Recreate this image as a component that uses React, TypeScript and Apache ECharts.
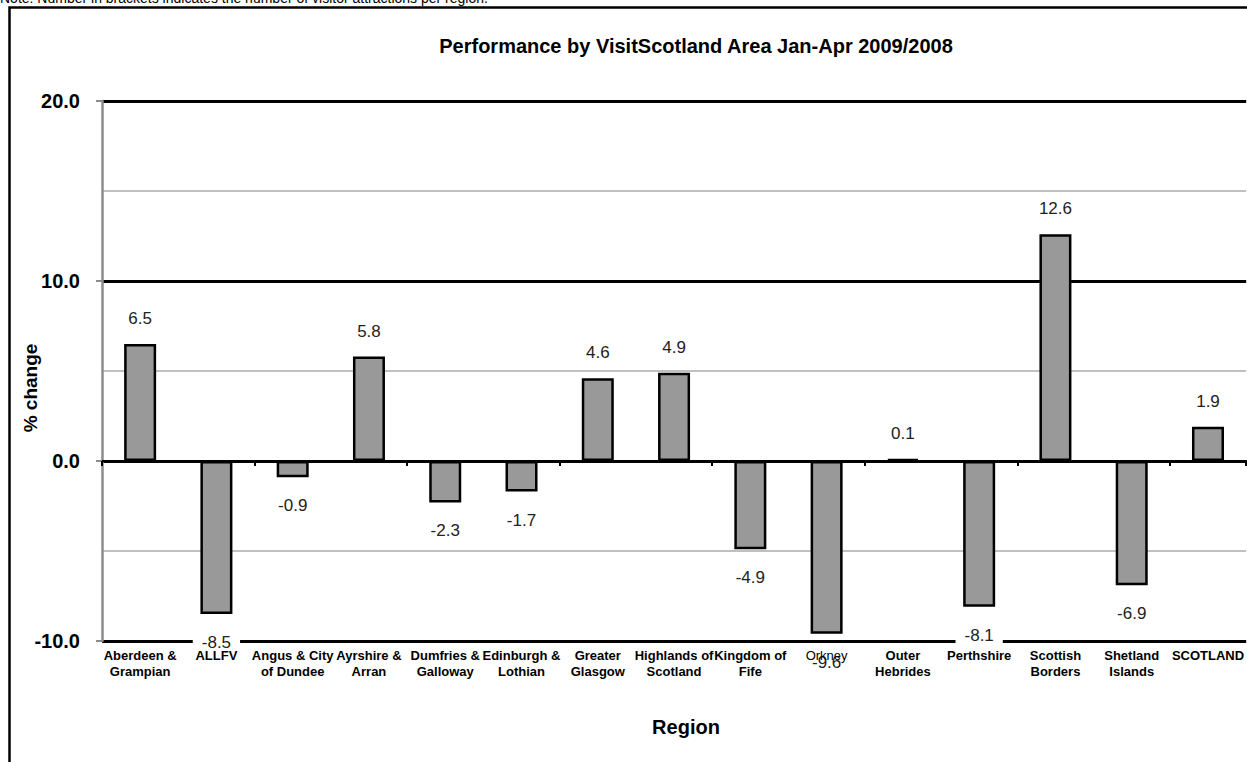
import React, { useEffect, useRef } from "react";
import * as echarts from "echarts";

const categories = [
  "Aberdeen &\nGrampian",
  "ALLFV",
  "Angus & City\nof Dundee",
  "Ayrshire &\nArran",
  "Dumfries &\nGalloway",
  "Edinburgh &\nLothian",
  "Greater\nGlasgow",
  "Highlands of\nScotland",
  "Kingdom of\nFife",
  "Orkney",
  "Outer\nHebrides",
  "Perthshire",
  "Scottish\nBorders",
  "Shetland\nIslands",
  "SCOTLAND",
];
const values = [6.5, -8.5, -0.9, 5.8, -2.3, -1.7, 4.6, 4.9, -4.9, -9.6, 0.1, -8.1, 12.6, -6.9, 1.9];
const yMin = -10;
const yMax = 20;
const yMajor = 10;
const yMinor = 5;

const titleText = "Performance by VisitScotland Area Jan-Apr 2009/2008";
const noteText = "Note: Number in brackets indicates the number of visitor attractions per region.";
const yName = "% change";
const xName = "Region";

const FONT = "'Liberation Sans', Arial, sans-serif";

export default function App() {
  const ref = useRef<HTMLDivElement>(null);
  useEffect(() => {
    if (!ref.current) return;
    const chart = echarts.init(ref.current, null, { renderer: "svg" });
    const data = values.map((v) => ({
      value: v,
      label: { position: v >= 0 ? "top" : "bottom", distance: v >= 0 ? 14 : 17 },
    }));
    chart.setOption({
      animation: false,
      backgroundColor: "#fff",
      textStyle: { fontFamily: FONT },
      grid: { left: 102, top: 101, width: 1147, height: 540, containLabel: false },
      xAxis: [
        {
          type: "category",
          data: categories,
          position: "bottom",
          z: 10,
          axisLine: { show: false, onZero: false },
          axisTick: { show: false },
          splitLine: { show: false },
          axisLabel: {
            interval: 0,
            fontSize: 13,
            fontWeight: "bold",
            lineHeight: 16,
            margin: 6,
            color: "#000",
            fontFamily: FONT,
            formatter: (v: string) => (v === "Orkney" ? "{o|" + v + "}" : v),
            rich: {
              o: { fontSize: 13, fontWeight: "normal", color: "#000", fontFamily: FONT },
            },
          },
        },
        {
          type: "category",
          data: categories,
          position: "bottom",
          axisLine: { show: true, onZero: true, lineStyle: { color: "#000", width: 2 } },
          axisTick: { show: true, length: 5, lineStyle: { color: "#000", width: 2 } },
          axisLabel: { show: false },
          splitLine: { show: false },
        },
      ],
      yAxis: [
        {
          type: "value",
          min: yMin,
          max: yMax,
          interval: yMinor,
          axisLine: { show: false },
          axisTick: { show: false },
          axisLabel: { show: false },
          splitLine: { show: true, lineStyle: { color: ["#000", "#c0c0c0"], width: 2 } },
        },
        {
          type: "value",
          min: yMin,
          max: yMax,
          interval: yMajor,
          position: "left",
          axisLine: { show: true, onZero: false, lineStyle: { color: "#8c8c8c", width: 2.5 } },
          axisTick: { show: true, length: 6, lineStyle: { color: "#8c8c8c", width: 2 } },
          axisLabel: {
            margin: 22,
            fontSize: 20,
            fontWeight: "bold",
            color: "#000",
            fontFamily: FONT,
            formatter: (v: number) => v.toFixed(1),
          },
          splitLine: { show: true, lineStyle: { color: "#000", width: 3 } },
        },
      ],
      series: [
        {
          type: "bar",
          xAxisIndex: 0,
          yAxisIndex: 0,
          data,
          barWidth: 32,
          itemStyle: { color: "#999999", borderColor: "#000", borderWidth: 2.5 },
          label: {
            show: true,
            fontSize: 17,
            color: "#222",
            fontFamily: FONT,
            backgroundColor: "#fff",
            padding: [3, 9],
            formatter: (p: any) => Number(p.value).toFixed(1),
          },
        },
      ],
      graphic: [
        {
          type: "rect",
          shape: { x: 9.5, y: 7.5, width: 1400, height: 900 },
          style: { fill: "none", stroke: "#000", lineWidth: 2.5 },
          z: 100,
        },
        {
          type: "text",
          x: 0,
          y: 5,
          style: { text: noteText, fontSize: 14, fill: "#000", fontFamily: FONT, verticalAlign: "bottom" },
        },
        {
          type: "text",
          x: 696,
          y: 46,
          style: {
            text: titleText,
            fontSize: 20,
            fontWeight: "bold",
            fill: "#000",
            fontFamily: FONT,
            align: "center",
            verticalAlign: "middle",
          },
        },
        {
          type: "text",
          x: 30,
          y: 388,
          rotation: Math.PI / 2,
          style: {
            text: yName,
            fontSize: 19,
            fontWeight: "bold",
            fill: "#000",
            fontFamily: FONT,
            align: "center",
            verticalAlign: "middle",
          },
        },
        {
          type: "text",
          x: 686,
          y: 727,
          style: {
            text: xName,
            fontSize: 20,
            fontWeight: "bold",
            fill: "#000",
            fontFamily: FONT,
            align: "center",
            verticalAlign: "middle",
          },
        },
      ],
    });
    return () => chart.dispose();
  }, []);
  return (
    <div
      ref={ref}
      style={{ position: "absolute", left: 0, top: 0, width: 1247, height: 762 }}
    />
  );
}
